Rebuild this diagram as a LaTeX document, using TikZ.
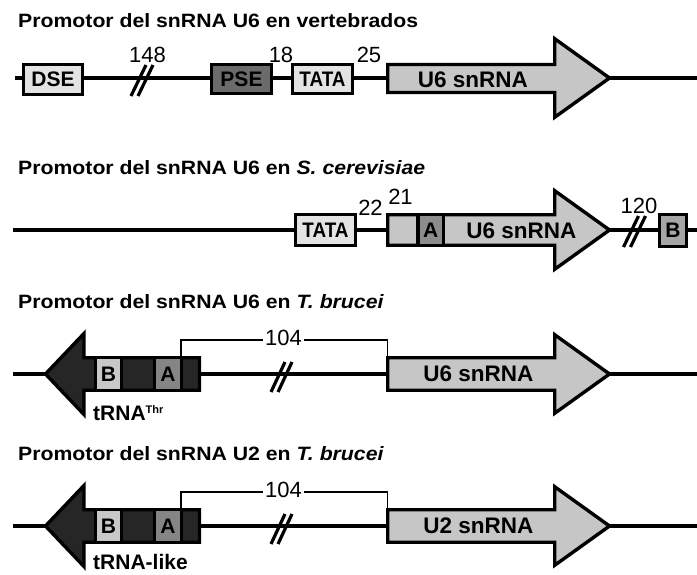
\documentclass[tikz,border=0pt]{standalone}
\usepackage{fontspec}
\setmainfont{Liberation Sans}
\usepackage{graphicx}
\definecolor{lightbox}{HTML}{E3E3E3}
\definecolor{psegray}{HTML}{6B6B6B}
\definecolor{genegray}{HTML}{C6C6C6}
\definecolor{agray}{HTML}{8C8C8C}
\definecolor{bgray}{HTML}{A6A6A6}
\definecolor{trnadark}{HTML}{262626}
\definecolor{trnab}{HTML}{C8C8C8}
\definecolor{trnaa}{HTML}{858585}
\newcommand\boxfont{\fontsize{21}{21}\selectfont\bfseries}
\newcommand\genefont{\fontsize{22.5}{22.5}\selectfont\bfseries}
\newcommand\numfont{\fontsize{22}{22}\selectfont}
\newcommand\ttlfont{\fontsize{19.3}{20}\selectfont\bfseries}
\newcommand\ttltext[1]{\scalebox{1.1}[1]{#1}}
\begin{document}
\begin{tikzpicture}[x=1pt,y=-1pt,
  backbone/.style={line width=3.4pt},
  box/.style={draw, line width=3.4pt, inner sep=0pt, font=\boxfont},
  gene/.style={draw, line width=3.4pt, line join=miter, fill=genegray},
  trna/.style={draw, line width=3.4pt, line join=miter, fill=trnadark},
  lbl/.style={inner sep=0pt, font=\genefont},
  num/.style={font=\numfont, inner sep=0pt, anchor=base},
  ttl/.style={font=\ttlfont, inner sep=0pt, anchor=base west},
  brk/.style={line width=1.6pt},
  slashes/.style={line width=3.2pt}
]
\useasboundingbox (0,0) rectangle (697,574);

% ---------------- Row 1 ----------------
\node[ttl] (t1) at (18,27) {\ttltext{Promotor del snRNA U6 en vertebrados}};
\coordinate (r1s) at (15,78);
\coordinate (r1e) at (697,78);
\draw[backbone] (r1s) -- (r1e);
\node[box, fill=lightbox, minimum width=58.5pt, minimum height=29.5pt] (dse) at (53,79.5) {DSE};
\node[box, fill=psegray, minimum width=59.5pt, minimum height=28.5pt] (pse) at (241.5,79) {PSE};
\node[box, fill=lightbox, minimum width=59.5pt, minimum height=28.5pt] (tata1) at (322.5,79) {\scalebox{0.9}[1]{TATA}};
\draw[gene] (387.75,64.5) -- (554.75,64.5) -- (554.75,38.75) -- (609.5,78) -- (554.75,117.25) -- (554.75,92.5) -- (387.75,92.5) -- cycle;
\node[lbl] (u6a) at (473,79.5) {U6 snRNA};
\coordinate (s1) at (142,79);
\draw[slashes] (s1) ++(-11,17) -- ++(15,-31) (s1) ++(-4,17) -- ++(15,-31);
\node[num] (n148) at (147.5,62) {148};
\node[num] (n18) at (281,62) {18};
\node[num] (n25) at (369,62) {25};

% ---------------- Row 2 ----------------
\node[ttl] (t2) at (18,174) {\ttltext{Promotor del snRNA U6 en \textit{S. cerevisiae}}};
\coordinate (r2s) at (13,230);
\coordinate (r2e) at (697,230);
\draw[backbone] (r2s) -- (r2e);
\node[box, fill=lightbox, minimum width=59.5pt, minimum height=30.5pt] (tata2) at (325.5,230) {\scalebox{0.9}[1]{TATA}};
\draw[gene] (387.75,214.75) -- (554.75,214.75) -- (554.75,190.75) -- (609.5,230) -- (554.75,269.25) -- (554.75,245.25) -- (387.75,245.25) -- cycle;
\node[box, fill=agray, minimum width=25.5pt, minimum height=30.5pt] (a2) at (430.75,230) {A};
\node[lbl] (u6b) at (521.5,231) {U6 snRNA};
\coordinate (s2) at (634.5,230);
\draw[slashes] (s2) ++(-11,17) -- ++(15,-31) (s2) ++(-4,17) -- ++(15,-31);
\node[box, fill=bgray, minimum width=26.5pt, minimum height=31.5pt] (b2) at (673,230.5) {B};
\node[num] (n22) at (370.5,215) {22};
\node[num] (n21) at (400.5,204) {21};
\node[num] (n120) at (639,213) {120};

% ---------------- Row 3 ----------------
\node[ttl] (t3) at (18,308) {\ttltext{Promotor del snRNA U6 en \textit{T. brucei}}};
\coordinate (r3s) at (13,374);
\coordinate (r3e) at (697,374);
\draw[backbone] (r3s) -- (r3e);
\draw[trna] (199.5,357.75) -- (84,357.75) -- (84,333.5) -- (45.5,374) -- (84,414.5) -- (84,390.25) -- (199.5,390.25) -- cycle;
\node[box, fill=trnab, minimum width=26.5pt, minimum height=32.5pt] (b3) at (108.5,374) {B};
\node[box, fill=trnaa, minimum width=27.5pt, minimum height=32.5pt] (a3) at (168,374) {A};
\draw[gene] (387.75,357.75) -- (554.75,357.75) -- (554.75,334.75) -- (609.5,374) -- (554.75,413.25) -- (554.75,390.25) -- (387.75,390.25) -- cycle;
\node[lbl] (u6c) at (478.5,374) {U6 snRNA};
\coordinate (s3) at (281,376);
\draw[slashes] (s3) ++(-10,16) -- ++(14,-30) (s3) ++(-3,16) -- ++(14,-30);
\node[num, anchor=center, fill=white, inner xsep=1.5pt] (n104a) at (283.5,338) {104};
\coordinate (k3a) at (181,356);
\coordinate (k3c) at (181,340);
\coordinate (k3d) at (387.5,340);
\coordinate (k3b) at (387.5,356);
\draw[brk] (k3a) -- (k3c) -- (n104a.west |- k3c);
\draw[brk] (n104a.east |- k3d) -- (k3d) -- (k3b);
\node[anchor=base west, inner sep=0pt, font=\boxfont] (trna3) at (93,420) {tRNA\raisebox{7pt}{\fontsize{11}{11}\selectfont\bfseries Thr}};

% ---------------- Row 4 ----------------
\node[ttl] (t4) at (18,460) {\ttltext{Promotor del snRNA U2 en \textit{T. brucei}}};
\coordinate (r4s) at (13,526);
\coordinate (r4e) at (697,526);
\draw[backbone] (r4s) -- (r4e);
\draw[trna] (199.5,509.75) -- (84,509.75) -- (84,485.5) -- (45.5,526) -- (84,566.5) -- (84,542.25) -- (199.5,542.25) -- cycle;
\node[box, fill=trnab, minimum width=26.5pt, minimum height=32.5pt] (b4) at (108.5,526) {B};
\node[box, fill=trnaa, minimum width=27.5pt, minimum height=32.5pt] (a4) at (168,526) {A};
\draw[gene] (387.75,509.75) -- (554.75,509.75) -- (554.75,486.75) -- (609.5,526) -- (554.75,565.25) -- (554.75,542.25) -- (387.75,542.25) -- cycle;
\node[lbl] (u2) at (478.5,526) {U2 snRNA};
\coordinate (s4) at (281,528);
\draw[slashes] (s4) ++(-10,16) -- ++(14,-30) (s4) ++(-3,16) -- ++(14,-30);
\node[num, anchor=center, fill=white, inner xsep=1.5pt] (n104b) at (283.5,490) {104};
\coordinate (k4a) at (181,508);
\coordinate (k4c) at (181,492);
\coordinate (k4d) at (387.5,492);
\coordinate (k4b) at (387.5,508);
\draw[brk] (k4a) -- (k4c) -- (n104b.west |- k4c);
\draw[brk] (n104b.east |- k4d) -- (k4d) -- (k4b);
\node[anchor=base west, inner sep=0pt, font=\boxfont] (trna4) at (93,569.5) {tRNA-like};
\end{tikzpicture}
\end{document}
